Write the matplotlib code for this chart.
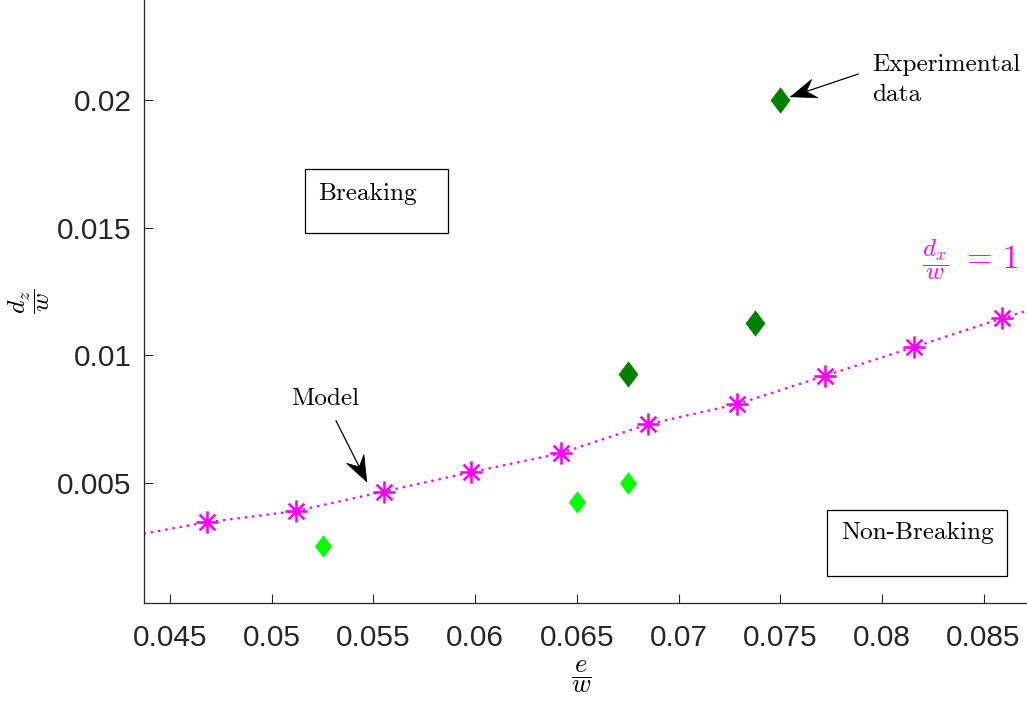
import numpy as np
import matplotlib
matplotlib.use("Agg")
import matplotlib.pyplot as plt
from matplotlib.path import Path
from matplotlib.patches import Rectangle, Polygon
from matplotlib.transforms import IdentityTransform

# ---------------- data ----------------
model_x = [0.0468, 0.0512, 0.0555, 0.0598, 0.0642, 0.0685, 0.0729, 0.0772, 0.0816, 0.0859]
model_y = [0.00345, 0.00389, 0.00465, 0.00541, 0.00615, 0.00729, 0.00808, 0.00919, 0.01032, 0.01144]

fit_x = [0.0437] + model_x + [0.0873]
fit_y = [0.0030] + model_y + [0.01178]

exp_light_x = [0.0525, 0.0650, 0.0675]
exp_light_y = [0.0025, 0.00426, 0.0050]

exp_dark_x = [0.0675, 0.07375, 0.0750]
exp_dark_y = [0.00926, 0.01125, 0.0200]

x_ticks = [0.045, 0.05, 0.055, 0.06, 0.065, 0.07, 0.075, 0.08, 0.085]
x_ticklabels = ["0.045", "0.05", "0.055", "0.06", "0.065", "0.07", "0.075", "0.08", "0.085"]
y_ticks = [0.005, 0.01, 0.015, 0.02]
y_ticklabels = ["0.005", "0.01", "0.015", "0.02"]

# ---------------- style ----------------
plt.rcParams["mathtext.fontset"] = "cm"
W, H, DPI = 1027, 702, 100
fig = plt.figure(figsize=(W / DPI, H / DPI), dpi=DPI)
ax = fig.add_axes([144 / W, (H - 603.3) / H, 886 / W, 603.3 / H])
ax.set_xlim(0.043722, 0.087281)
ax.set_ylim(0.000274, 0.023915)

axc = "#262626"
for s in ["top", "right"]:
    ax.spines[s].set_visible(False)
for s in ["left", "bottom"]:
    ax.spines[s].set_color(axc)
    ax.spines[s].set_linewidth(0.9)

ax.set_xticks(x_ticks)
ax.set_xticklabels(x_ticklabels)
ax.set_yticks(y_ticks)
ax.set_yticklabels(y_ticklabels)
ax.tick_params(direction="in", length=6.7, width=0.8, color=axc, labelcolor=axc)
ax.tick_params(axis="x", pad=15)
ax.tick_params(axis="y", pad=9)
for lab in ax.get_xticklabels() + ax.get_yticklabels():
    lab.set_fontfamily("Liberation Sans")
    lab.set_fontsize(21.5)

# markers
star = Path(
    [(-1, 0), (1, 0), (0, -1), (0, 1),
     (-0.7071, -0.7071), (0.7071, 0.7071), (-0.7071, 0.7071), (0.7071, -0.7071)],
    [Path.MOVETO, Path.LINETO] * 4,
)
diamond = Path([(0, 1), (0.75, 0), (0, -1), (-0.75, 0), (0, 1)],
               [Path.MOVETO, Path.LINETO, Path.LINETO, Path.LINETO, Path.CLOSEPOLY])

magenta = "#FF00FF"
ax.plot(fit_x, fit_y, color=magenta, lw=1.7, linestyle=(0, (1, 2.1)), zorder=2)
ax.plot(model_x, model_y, linestyle="none", marker=star, ms=16, mew=1.9,
        mec=magenta, mfc="none", zorder=3)
ax.plot(exp_light_x, exp_light_y, linestyle="none", marker=diamond, ms=15.5,
        mfc="#00FF00", mec="#00FF00", mew=0.5, zorder=4)
ax.plot(exp_dark_x, exp_dark_y, linestyle="none", marker=diamond, ms=18.2,
        mfc="#008000", mec="#008000", mew=0.5, zorder=4)

# axis labels
ax.set_xlabel(r"$\dfrac{e}{w}$", fontsize=19)
ax.xaxis.label.set_va("center")
ax.xaxis.set_label_coords(0.4932, -0.1222)
ax.set_ylabel(r"$\dfrac{d_z}{w}$", fontsize=18.5)
ax.yaxis.label.set_va("center")
ax.yaxis.label.set_ha("center")
ax.yaxis.set_label_coords(-0.1287, 0.5)

# region boxes
ax.add_patch(Rectangle((0.051637, 0.014796), 0.058653 - 0.051637, 0.017292 - 0.014796,
                       fill=False, ec="black", lw=0.9, zorder=5))
ax.text(0.052276, 0.016078, "Breaking", family="cmr10", fontsize=18.2,
        va="baseline", ha="left", color="black")
ax.add_patch(Rectangle((0.077311, 0.001344), 0.086141 - 0.077311, 0.00393 - 0.001344,
                       fill=False, ec="black", lw=0.9, zorder=5))
ax.text(0.0780, 0.002782, "Non-Breaking", family="cmr10", fontsize=18.2,
        va="baseline", ha="left", color="black")

# labels with arrows
ax.text(0.050934, 0.008045, "Model", family="cmr10", fontsize=18.2,
        va="baseline", ha="left", color="black")
ax.text(0.079528, 0.021132, "Experimental", family="cmr10", fontsize=18.2,
        va="baseline", ha="left", color="black")
ax.text(0.079528, 0.019969, "data", family="cmr10", fontsize=18.2,
        va="baseline", ha="left", color="black")
ax.text(0.081957, 0.013727, r"$\dfrac{d_x}{w}$", fontsize=18,
        va="center", ha="left", color=magenta)
ax.text(0.083900, 0.013780, r"$=\,1$", fontsize=23.5,
        va="center", ha="left", color=magenta)


def arrow(ax, tail, tip, length=25.5, width=19.5, notch=0.65, color="black"):
    ax.annotate("", xy=tip, xytext=tail,
                arrowprops=dict(arrowstyle="-", lw=0.9, color=color,
                                shrinkA=0, shrinkB=0))
    t = ax.transData.transform(tail)
    p = ax.transData.transform(tip)
    d = p - t
    u = d / np.hypot(*d)
    n = np.array([-u[1], u[0]])
    base = p - u * length
    pts = [p, base + n * width / 2, p - u * length * notch, base - n * width / 2]
    ax.add_patch(Polygon(pts, closed=True, transform=IdentityTransform(),
                         fc=color, ec=color, lw=0.5, clip_on=False, zorder=6))


arrow(ax, (0.053161, 0.007429), (0.054671, 0.005039))
arrow(ax, (0.078840, 0.021015), (0.075516, 0.020125))

fig.savefig("out.png", dpi=DPI)
